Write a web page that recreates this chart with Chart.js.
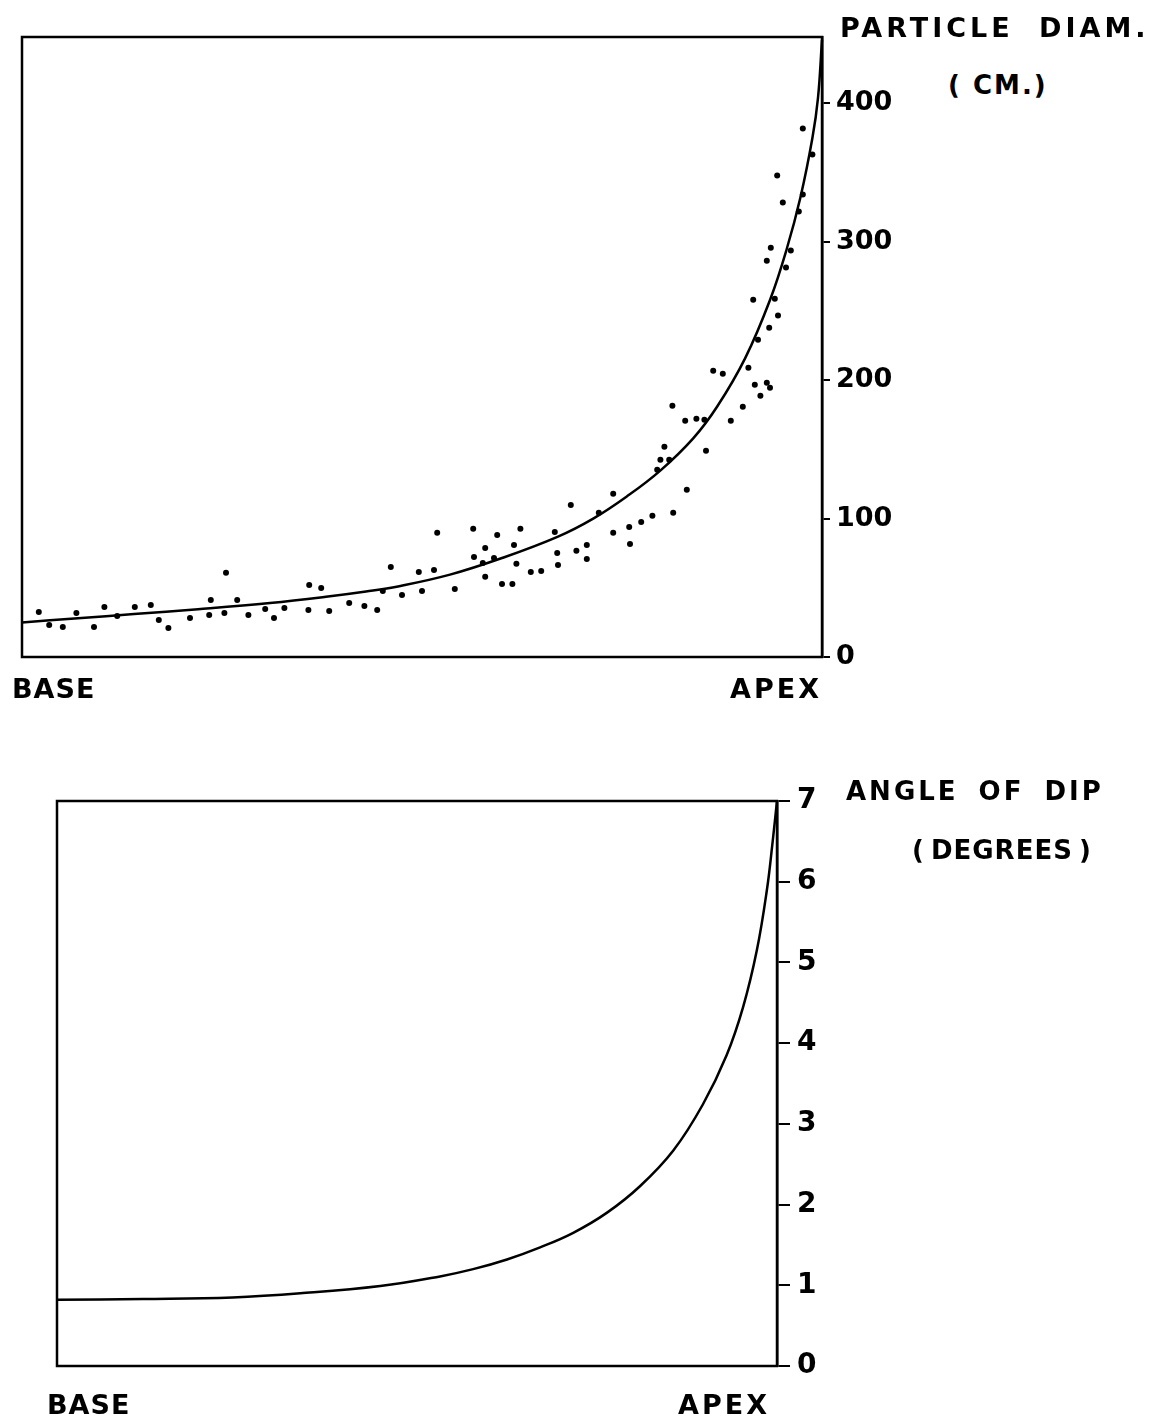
<!DOCTYPE html>
<html>
<head>
<meta charset="utf-8">
<script src="https://cdn.jsdelivr.net/npm/chart.js@4.4.0/dist/chart.umd.min.js"></script>
<style>
  html, body { margin: 0; padding: 0; background: #fff; }
  body { width: 1162px; height: 1422px; position: relative; overflow: hidden; }
  .box { position: absolute; }
  .lbl {
    position: absolute; white-space: nowrap; color: #000;
    font-family: "DejaVu Sans", sans-serif; font-weight: bold; line-height: 1;
  }
</style>
</head>
<body>

<div class="box" style="left:0;top:0;width:900px;height:680px"><canvas id="diamChart"></canvas></div>
<div class="box" style="left:0;top:720px;width:880px;height:680px"><canvas id="dipChart"></canvas></div>

<div class="lbl" style="left:840px;top:14px;font-size:27px;letter-spacing:4px;word-spacing:12px">PARTICLE DIAM.</div>
<div class="lbl" style="left:948px;top:72px;font-size:26px;letter-spacing:2px">( CM.)</div>
<div class="lbl" style="left:12px;top:675px;font-size:27px;letter-spacing:1px">BASE</div>
<div class="lbl" style="left:730px;top:675px;font-size:27px;letter-spacing:3px">APEX</div>

<div class="lbl" style="left:846px;top:778px;font-size:26px;letter-spacing:3px;word-spacing:8px">ANGLE OF DIP</div>
<div class="lbl" style="left:912px;top:837px;font-size:26px;letter-spacing:1px;word-spacing:-4px">( DEGREES )</div>
<div class="lbl" style="left:47px;top:1391px;font-size:27px;letter-spacing:1px">BASE</div>
<div class="lbl" style="left:678px;top:1391px;font-size:27px;letter-spacing:3px">APEX</div>

<script>
// position along the fan, 0 = base, 100 = apex

// --- particle diameter (cm), measured points ---
const diamX = [2.1, 3.4, 5.1, 6.8, 9.0, 10.3, 11.9, 14.1, 16.1, 17.1, 18.3, 21.0, 23.4, 23.6, 25.3, 25.5, 26.9, 28.3, 30.4, 31.5,
  32.8, 35.8, 35.9, 37.4, 38.4, 40.9, 42.8, 44.4, 45.1, 46.1, 47.5, 49.6, 50.0, 51.5, 51.9, 54.1, 56.4, 56.5, 57.6, 57.9,
  57.9, 59.0, 59.4, 60.0, 61.3, 61.5, 61.8, 62.3, 63.6, 64.9, 66.6, 66.9, 67.0, 68.6, 69.3, 70.6, 70.6, 72.1, 73.9, 73.9,
  75.9, 76.0, 77.4, 78.8, 79.4, 79.8, 80.3, 80.9, 81.3, 81.4, 82.9, 83.1, 84.3, 85.3, 85.5, 86.4, 87.6, 88.6, 90.1, 90.8,
  91.6, 92.3, 93.1, 93.5, 92.0, 93.4, 91.4, 94.1, 94.5, 93.1, 93.6, 95.5, 96.1, 95.1, 94.4, 97.1, 97.6, 97.6, 98.8];
const diamY = [32.5, 23.1, 21.7, 31.8, 21.7, 36.2, 29.7, 36.2, 37.6, 26.8, 21.0, 28.2, 30.4, 41.2, 31.8, 60.8, 41.2, 30.4, 34.7, 28.2,
  35.4, 34.0, 52.1, 49.9, 33.3, 39.1, 36.9, 34.0, 47.7, 65.1, 44.8, 61.5, 47.7, 62.9, 89.7, 49.2, 92.6, 72.3, 68.0, 78.8,
  57.9, 71.6, 88.2, 52.8, 52.8, 81.0, 67.3, 92.6, 61.5, 62.2, 90.4, 75.2, 66.5, 109.9, 76.7, 81.0, 70.9, 104.2, 117.9, 89.7,
  94.0, 81.7, 97.6, 102.0, 135.3, 142.5, 151.9, 142.5, 181.6, 104.2, 170.7, 120.8, 172.2, 171.4, 149.0, 206.9, 204.7, 170.7, 180.8, 209.0,
  196.7, 188.8, 198.2, 194.6, 229.3, 238.0, 258.2, 258.9, 246.7, 286.4, 295.8, 281.4, 293.7, 328.4, 347.9, 321.9, 334.2, 381.9, 363.1];

// fitted curve through the diameters
const diamCurveX = [0, 7, 14, 22, 31, 38, 43, 47, 53.5, 60, 67, 71.4, 75.6, 79.75, 83.9, 86.9, 90.4, 93.5, 95.6, 97.3, 98.8, 99.5, 100];
const diamCurveY = [25, 28, 31, 34.5, 39, 43.5, 47.3, 51, 59.5, 71.5, 87, 100, 116, 134.5, 158, 181, 216, 258, 295, 332, 375, 404, 446];
const diamTicks = [0, 100, 200, 300, 400];

// --- angle of dip (degrees) ---
const dipX = [0, 12, 24.4, 33.8, 44.9, 53.2, 57.8, 62.5, 67.1, 71.7, 76.4, 81, 85.6, 89.7, 93, 95.3, 97.2, 98.6, 99.4, 100];
const dipY = [0.82, 0.83, 0.85, 0.90, 0.99, 1.11, 1.20, 1.32, 1.47, 1.65, 1.90, 2.23, 2.67, 3.24, 3.85, 4.45, 5.15, 5.9, 6.5, 7.0];
const dipTicks = [0, 1, 2, 3, 4, 5, 6, 7];

const toPoints = (xs, ys) => xs.map((x, i) => ({ x: x, y: ys[i] }));

// frame round the plot area
const framePlugin = {
    id: 'frame',
    afterDraw(chart) {
        const a = chart.chartArea;
        const ctx = chart.ctx;
        ctx.save();
        ctx.strokeStyle = '#000';
        ctx.lineWidth = 2.5;
        ctx.strokeRect(a.left, a.top, a.right - a.left, a.bottom - a.top);
        ctx.restore();
    }
};

function makeChart(id, opts) {
    return new Chart(document.getElementById(id), {
        type: 'line',
        data: { datasets: opts.datasets },
        options: {
            responsive: true,
            maintainAspectRatio: false,
            animation: false,
            layout: { padding: opts.padding },
            plugins: { legend: { display: false }, tooltip: { enabled: false } },
            scales: {
                x: { type: 'linear', min: 0, max: 100, display: false },
                y: {
                    position: 'right',
                    min: 0,
                    max: opts.yMax,
                    afterBuildTicks: (scale) => { scale.ticks = opts.ticks.map(v => ({ value: v })); },
                    afterFit: (scale) => { scale.width = opts.axisWidth; },
                    grid: { drawOnChartArea: false, drawTicks: true, tickLength: opts.tickLength, color: '#000', lineWidth: 2 },
                    border: { display: true, color: '#000', width: 2.5 },
                    ticks: {
                        color: '#000',
                        padding: opts.tickPad,
                        font: { family: 'DejaVu Sans', weight: 'bold', size: opts.tickSize }
                    }
                }
            }
        },
        plugins: [framePlugin]
    });
}

makeChart('diamChart', {
    padding: { left: 22, top: 37, right: 0, bottom: 23 },
    axisWidth: 78,
    yMax: 448,
    ticks: diamTicks,
    tickLength: 8,
    tickPad: 6,
    tickSize: 27,
    datasets: [
        {
            type: 'scatter',
            data: toPoints(diamX, diamY),
            pointRadius: 3,
            pointBackgroundColor: '#000',
            pointBorderWidth: 0
        },
        {
            type: 'line',
            data: toPoints(diamCurveX, diamCurveY),
            borderColor: '#000',
            borderWidth: 2.5,
            pointRadius: 0,
            tension: 0.4,
            clip: false
        }
    ]
});

makeChart('dipChart', {
    padding: { left: 57, top: 81, right: 0, bottom: 34 },
    axisWidth: 103,
    yMax: 7,
    ticks: dipTicks,
    tickLength: 13,
    tickPad: 7,
    tickSize: 28,
    datasets: [
        {
            type: 'line',
            data: toPoints(dipX, dipY),
            borderColor: '#000',
            borderWidth: 2.5,
            pointRadius: 0,
            tension: 0.4,
            clip: false
        }
    ]
});
</script>
</body>
</html>
